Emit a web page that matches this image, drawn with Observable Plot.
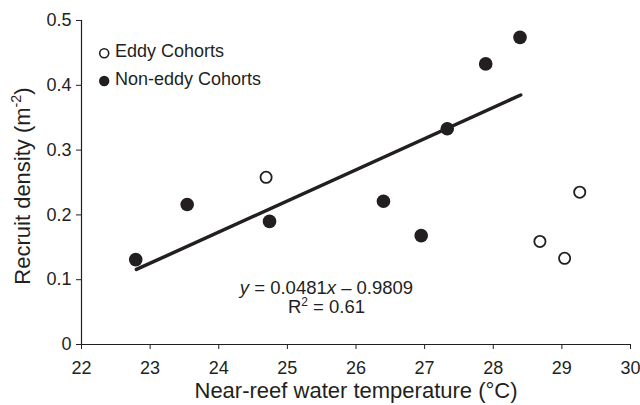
<!DOCTYPE html>
<html><head><meta charset="utf-8">
<script src="https://cdn.jsdelivr.net/npm/d3@7"></script>
<script src="https://cdn.jsdelivr.net/npm/@observablehq/plot@0.6"></script>
<style>body{margin:0;background:#fff} svg{font-family:"Liberation Sans",Arial,Helvetica,sans-serif}</style>
</head><body><div id="chart"></div>
<script>
const eddyTemp = [24.69, 28.68, 29.04, 29.26];
const eddyDensity = [0.258, 0.159, 0.133, 0.235];
const nonEddyTemp = [22.79, 23.54, 24.74, 26.40, 26.95, 27.33, 27.89, 28.39];
const nonEddyDensity = [0.131, 0.216, 0.190, 0.221, 0.168, 0.333, 0.433, 0.474];
const trendTemp = [22.8, 28.4];
const trendDensity = [0.1158, 0.385];
const xTicks = [22, 23, 24, 25, 26, 27, 28, 29, 30];
const yTicks = [0, 0.1, 0.2, 0.3, 0.4, 0.5];
const yTickLabels = ["0", "0.1", "0.2", "0.3", "0.4", "0.5"];
const legendLabels = ["Eddy Cohorts", "Non-eddy Cohorts"];
const equationLines = ["y = 0.0481x – 0.9809", "R2 = 0.61"];
const xLabel = "Near-reef water temperature (°C)";
const yLabel = "Recruit density (m-2)";

const ink = "#231f20";
const eddy = eddyTemp.map((t, i) => ({t, d: eddyDensity[i]}));
const nonEddy = nonEddyTemp.map((t, i) => ({t, d: nonEddyDensity[i]}));
const trend = trendTemp.map((t, i) => ({t, d: trendDensity[i]}));

const chart = Plot.plot({
  width: 640, height: 405,
  marginLeft: 81, marginRight: 10, marginTop: 20, marginBottom: 61,
  style: {color: ink, background: "#fff", fontFamily: '"Liberation Sans", Arial, sans-serif', fontSize: "18px"},
  x: {domain: [22, 30]},
  y: {domain: [0, 0.5]},
  marks: [
    Plot.ruleY([0], {stroke: ink, strokeWidth: 1.2}),
    Plot.ruleX([22], {stroke: ink, strokeWidth: 1.2}),
    Plot.axisX({ticks: xTicks, tickSize: 5, tickPadding: 12, label: null, tickFormat: d => String(d)}),
    Plot.axisY({ticks: yTicks, tickSize: 5, tickPadding: 5, label: null, tickFormat: d => yTickLabels[yTicks.indexOf(d)]}),
    Plot.line(trend, {x: "t", y: "d", stroke: ink, strokeWidth: 3.5}),
    Plot.dot(nonEddy, {x: "t", y: "d", r: 6.8, fill: ink, stroke: "none"}),
    Plot.dot(eddy, {x: "t", y: "d", r: 5.6, fill: "#fff", stroke: ink, strokeWidth: 1.8}),
    // legend
    Plot.dot([legendLabels[0]], {frameAnchor: "top-left", dx: 22.7, dy: 32.7, r: 4.5, fill: "#fff", stroke: ink, strokeWidth: 1.6}),
    Plot.dot([legendLabels[1]], {frameAnchor: "top-left", dx: 22.7, dy: 60.5, r: 5.2, fill: ink, stroke: "none"}),
    Plot.text([legendLabels[0]], {frameAnchor: "top-left", dx: 33.5, dy: 31, text: d => d, textAnchor: "start", lineAnchor: "middle", fontSize: 18, fill: ink}),
    Plot.text([legendLabels[1]], {frameAnchor: "top-left", dx: 33.5, dy: 58.5, text: d => d, textAnchor: "start", lineAnchor: "middle", fontSize: 18, fill: ink}),
    // equation
    Plot.text([equationLines[0]], {frameAnchor: "top-left", dx: 245, dy: 268, text: d => d, textAnchor: "middle", lineAnchor: "middle", fontSize: 18.5, fill: ink}),
    Plot.text([equationLines[1]], {frameAnchor: "top-left", dx: 245, dy: 287, text: d => d, textAnchor: "middle", lineAnchor: "middle", fontSize: 18.5, fill: ink}),
    // axis labels
    Plot.text([xLabel], {frameAnchor: "bottom", dy: 46.5, text: d => d, textAnchor: "middle", lineAnchor: "middle", fontSize: 22, fill: ink}),
    Plot.text([yLabel], {frameAnchor: "left", dx: -58.5, dy: 3.5, rotate: -90, text: d => d, textAnchor: "middle", lineAnchor: "middle", fontSize: 22, fill: ink})
  ]
});
document.getElementById("chart").append(chart);

function rebuild(textEl, parts, fs) {
  const sel = d3.select(textEl);
  sel.text(null);
  let shifted = 0;
  for (const p of parts) {
    const ts = sel.append("tspan").text(p.t);
    if (p.i) ts.attr("font-style", "italic");
    if (p.sup) {
      ts.attr("font-size", fs * 0.65).attr("dy", -fs * 0.4);
      shifted = fs * 0.4;
    } else if (shifted) {
      ts.attr("dy", shifted);
      shifted = 0;
    }
  }
}
d3.select(chart).selectAll("text").each(function() {
  const s = this.textContent;
  if (s === equationLines[0]) {
    rebuild(this, [{t: "y", i: true}, {t: " = 0.0481"}, {t: "x", i: true}, {t: " – 0.9809"}], 18.5);
  } else if (s === equationLines[1]) {
    rebuild(this, [{t: "R"}, {t: "2", sup: true}, {t: " = 0.61"}], 18.5);
  } else if (s === yLabel) {
    rebuild(this, [{t: "Recruit density (m"}, {t: "-2", sup: true}, {t: ")"}], 22);
  }
});
</script>
</body></html>
